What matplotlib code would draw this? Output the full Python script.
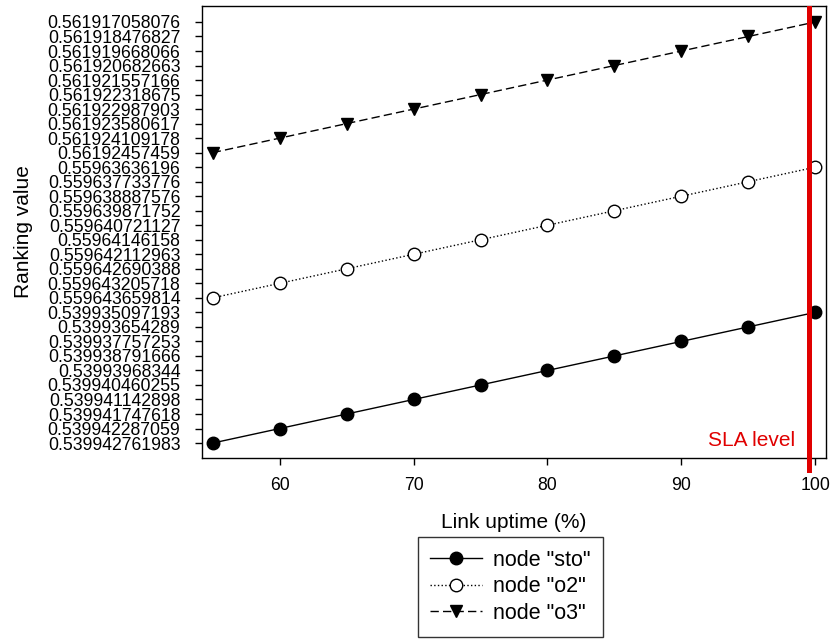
import numpy as np
import matplotlib.pyplot as plt

plt.rcParams['font.family'] = ['Liberation Sans', 'DejaVu Sans']

# link uptime (%) for each measurement
uptime = [55, 60, 65, 70, 75, 80, 85, 90, 95, 100]

# ranking values are kept as text, so the y axis is categorical
rank_sto = ['0.539942761983', '0.539942287059', '0.539941747618', '0.539941142898',
            '0.539940460255', '0.53993968344', '0.539938791666', '0.539937757253',
            '0.53993654289', '0.539935097193']
rank_o2 = ['0.559643659814', '0.559643205718', '0.559642690388', '0.559642112963',
           '0.55964146158', '0.559640721127', '0.559639871752', '0.559638887576',
           '0.559637733776', '0.55963636196']
rank_o3 = ['0.56192457459', '0.561924109178', '0.561923580617', '0.561922987903',
           '0.561922318675', '0.561921557166', '0.561920682663', '0.561919668066',
           '0.561918476827', '0.561917058076']

sla_level = 99.5

fig = plt.figure(figsize=(8.3, 6.39), dpi=100)
ax = fig.add_axes([0.2434, 1 - 458 / 639, 0.7518, 452 / 639])

ax.plot(uptime, rank_sto, color='black', linestyle='-', linewidth=1,
        marker='o', markersize=9, markerfacecolor='black', label='node "sto"')
ax.plot(uptime, rank_o2, color='black', linestyle=':', linewidth=1,
        marker='o', markersize=9, markerfacecolor='white', label='node "o2"')
ax.plot(uptime, rank_o3, color='black', linestyle=(0, (6, 3)), linewidth=1,
        marker='v', markersize=9, markerfacecolor='black', label='node "o3"')

# SLA marker runs a little past the bottom of the frame
ax.axvline(sla_level, ymin=-0.027, ymax=0.995, color='#e00000', linewidth=3.6,
           clip_on=False, zorder=5)
ax.text(sla_level - 1.0, 0.2, 'SLA level', color='#e00000', fontsize=15,
        ha='right', va='center')

ax.set_xlim(54.2, 100.8)
ax.set_ylim(-1.03, 30.1)
ax.set_xticks([60, 70, 80, 90, 100])
ax.tick_params(direction='out', length=5, width=1, labelsize=12.7, colors='black')
ax.tick_params(axis='x', pad=9)
ax.tick_params(axis='y', pad=10.5)
for s in ax.spines.values():
    s.set_linewidth(1)

ax.set_xlabel('Link uptime (%)', fontsize=15, labelpad=13)
ax.set_ylabel('Ranking value', fontsize=15, labelpad=10.5)

leg = fig.legend(loc='upper center', bbox_to_anchor=(0.615, 1 - 537 / 639), fontsize=15.5,
                 frameon=True, fancybox=False, edgecolor='black', handlelength=2.4,
                 borderpad=0.6, labelspacing=0.25, handletextpad=0.5,
                 borderaxespad=0)
leg.get_frame().set_linewidth(1)

fig.savefig('out.png', dpi=100)
